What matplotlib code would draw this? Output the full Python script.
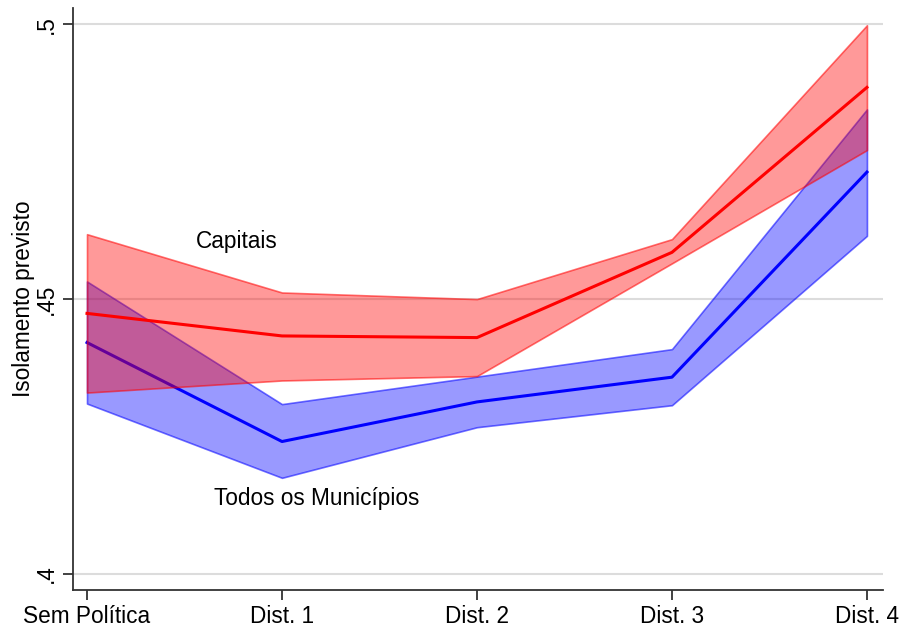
import matplotlib
matplotlib.use('Agg')

import numpy as np
import matplotlib.pyplot as plt

# ------------------------------------------------------------
# Dados
# ------------------------------------------------------------
categorias = ['Sem Política', 'Dist. 1', 'Dist. 2', 'Dist. 3', 'Dist. 4']

cap_media = [0.4474, 0.4433, 0.4430, 0.4585, 0.4885]
cap_sup = [0.4618, 0.4512, 0.4500, 0.4609, 0.4998]
cap_inf = [0.4330, 0.4352, 0.4360, 0.4565, 0.4771]

mun_media = [0.4421, 0.4241, 0.4313, 0.4358, 0.4731]
mun_sup = [0.4532, 0.4309, 0.4359, 0.4409, 0.4845]
mun_inf = [0.4310, 0.4175, 0.4267, 0.4307, 0.4615]

y_ticks = [0.40, 0.45, 0.50]
y_tick_labels = ['.4', '.45', '.5']

plt.rcParams['font.family'] = ['Liberation Sans', 'DejaVu Sans']

fig = plt.figure(figsize=(9.03, 6.29), dpi=100)
ax = fig.add_axes([0.0808, 0.062, 0.897, 0.925])

x = np.arange(len(categorias))

# grade
for yt in y_ticks:
    ax.axhline(yt, color='#dcdcdc', linewidth=1.5, zorder=0)

# Todos os municípios (desenhado primeiro, fica por baixo)
ax.fill_between(x, mun_inf, mun_sup, facecolor=(0, 0, 1, 0.4),
                edgecolor=(0, 0, 1, 0.55), linewidth=1.2, zorder=2)
ax.plot(x, mun_media, color='#0000ff', linewidth=2.2, zorder=3)

# Capitais por cima
ax.fill_between(x, cap_inf, cap_sup, facecolor=(1, 0, 0, 0.4),
                edgecolor=(1, 0, 0, 0.55), linewidth=1.2, zorder=4)
ax.plot(x, cap_media, color='#ff0000', linewidth=2.2, zorder=5)

ax.text(0.77, 0.4604, 'Capitais', fontsize=16.3, ha='center', va='center')
ax.text(1.18, 0.4137, 'Todos os Municípios', fontsize=16.3, ha='center', va='center')

ax.set_xlim(-0.072, 4.082)
ax.set_ylim(0.3971, 0.5029)
ax.set_xticks(x)
ax.set_xticklabels(categorias, fontsize=16.3)
ax.set_yticks(y_ticks)
ax.set_yticklabels(y_tick_labels, fontsize=16.3, rotation=90, va='center')
ax.set_ylabel('Isolamento previsto', fontsize=16.3, labelpad=0)

ax.spines['top'].set_visible(False)
ax.spines['right'].set_visible(False)
for s in ['left', 'bottom']:
    ax.spines[s].set_color('#333333')
    ax.spines[s].set_linewidth(1.3)
ax.tick_params(axis='both', length=7, width=1.3, color='#333333', pad=4)

fig.savefig('out.png', dpi=100)
plt.close(fig)
